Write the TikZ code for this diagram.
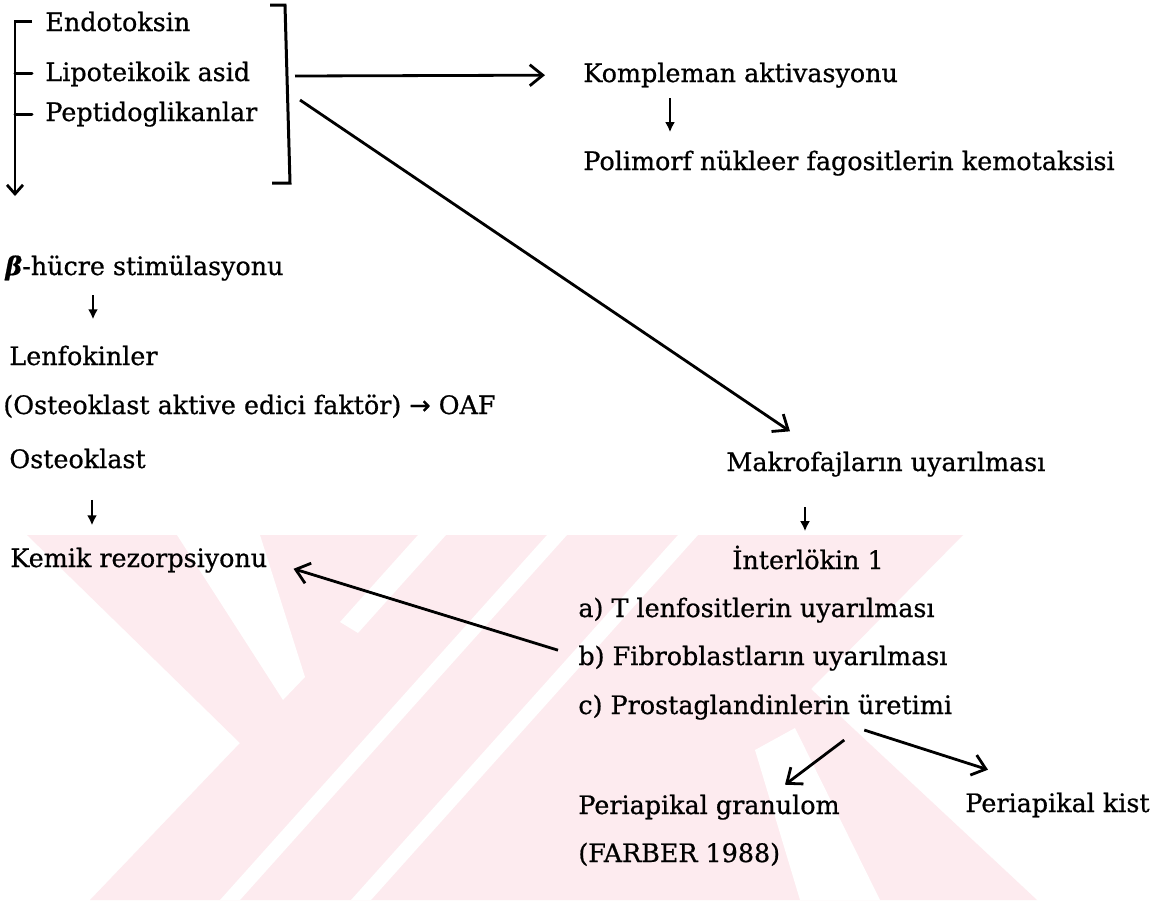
\documentclass[tikz,border=0pt]{standalone}
\usepackage{fontspec}
\setmainfont{DejaVu Serif}
\newfontfamily\tfont{DejaVu Serif}[FakeBold=0.7]
\newfontfamily\arrowfont{DejaVu Sans}[FakeBold=0.7]
\usetikzlibrary{arrows.meta}
\definecolor{wmpink}{RGB}{253,235,239}
\begin{document}
\begin{tikzpicture}[x=0.5pt,y=-0.5pt,
  txt/.style={anchor=base west,inner sep=0pt,font=\tfont\fontsize{12.7pt}{15pt}\selectfont},
  conn/.style={line width=1.4pt,-{Straight Barb[length=6.5pt,width=10.5pt,line width=1.4pt]}},
  smallconn/.style={line width=1.4pt,-{Straight Barb[length=4.5pt,width=8pt,line width=1.4pt]}},
  dn/.style={line width=1.2pt,-{Latex[length=5pt,width=5pt]}},
  brk/.style={line width=1.5pt,line cap=round},
  wm/.style={fill=wmpink,draw=none},
  wmgap/.style={fill=white,draw=none}]
\useasboundingbox (0,0) rectangle (1163,901);
\fill[white] (0,0) rectangle (1163,901);
% watermark
\fill[wm] (27,535) -- (963,535) -- (811,689) -- (1037,900) -- (90,900) -- (240,743) -- cycle;
\fill[wmgap] (177,535) -- (260,535) -- (305,677) -- (283,700) -- cycle;
\fill[wmgap] (418,535) -- (446,535) -- (358,633) -- (340,622) -- cycle;
\fill[wmgap] (547,535) -- (567,535) -- (240,900) -- (220,900) -- cycle;
\fill[wmgap] (678,535) -- (698,535) -- (371,900) -- (351,900) -- cycle;
\fill[wmgap] (755,750) -- (795,728) -- (880,900) -- (800,900) -- cycle;
% texts
\node[txt] (endo) at (45,31) {Endotoksin};
\node[txt] (lipo) at (45,81) {Lipoteikoik asid};
\node[txt] (pept) at (45,121) {Peptidoglikanlar};
\node[txt] (komp) at (583,82) {Kompleman aktivasyonu};
\node[txt] (poli) at (583,170) {Polimorf nükleer fagositlerin kemotaksisi};
\node[txt] (beta) at (5,275) {\textbf{\textit{β}}-hücre stimülasyonu};
\node[txt] (lenf) at (9,365) {Lenfokinler};
\node[txt] (oaf) at (3,414) {(Osteoklast aktive edici faktör) {\arrowfont →} OAF};
\node[txt] (ostk) at (9,468) {Osteoklast};
\node[txt] (kemik) at (10,567) {Kemik rezorpsiyonu};
\node[txt] (makro) at (726,471) {Makrofajların uyarılması};
\node[txt] (inter) at (732,569) {İnterlökin 1};
\node[txt] (ta) at (578,617) {a) T lenfositlerin uyarılması};
\node[txt] (tb) at (578,665) {b) Fibroblastların uyarılması};
\node[txt] (tc) at (578,714) {c) Prostaglandinlerin üretimi};
\node[txt] (pgran) at (578,814) {Periapikal granulom};
\node[txt] (farber) at (578,862) {(FARBER 1988)};
\node[txt] (pkist) at (965,812) {Periapikal kist};
% left bracket with arrow down
\coordinate (bstop) at (15,196);
\draw[smallconn] ([xshift=-6.5pt]endo.west) -| (bstop);
\draw[brk] (lipo.west -| bstop) -- ([xshift=-6.5pt]lipo.west);
\draw[brk] (pept.west -| bstop) -- ([xshift=-6.5pt]pept.west);
% right bracket
\coordinate (rb1) at (270,5);
\coordinate (rb2) at (285,5);
\coordinate (rb3) at (290,183);
\coordinate (rb4) at (272,183);
\draw[brk,line cap=butt] (rb1) -- (rb2) -- (rb3) -- (rb4);
% connectors from the bracket
\coordinate (hs) at (295,76);
\coordinate (ds) at (300,100);
\draw[conn] (hs) -- ([xshift=-19pt]komp.west);
\draw[conn] (ds) -- ([xshift=32pt,yshift=10pt]makro.north west);
% small down arrows
\coordinate (kx) at (670,0);
\coordinate (bx) at (93,0);
\coordinate (ox) at (92,0);
\coordinate (mx) at (805,0);
\draw[dn,shorten <=5pt,shorten >=9pt] (komp.south -| kx) -- (poli.north -| kx);
\draw[dn,shorten <=7pt,shorten >=13pt] (beta.south -| bx) -- (lenf.north -| bx);
\draw[dn,shorten <=15.5pt,shorten >=11pt] (ostk.south -| ox) -- (kemik.north -| ox);
\draw[dn,shorten <=15pt,shorten >=7pt] (makro.south -| mx) -- (inter.north -| mx);
% other connectors
\draw[conn] ([xshift=-10pt,yshift=4pt]tb.west) -- ([xshift=13pt,yshift=-4.3pt]kemik.east);
\draw[conn] ([xshift=49.5pt,yshift=-5pt]tc.south) -- ([xshift=11.5pt,yshift=11.3pt]pkist.north west);
\draw[conn] ([xshift=39.5pt,yshift=-10pt]tc.south) -- ([xshift=103.5pt,yshift=4.8pt]pgran.north west);
\end{tikzpicture}
\end{document}
